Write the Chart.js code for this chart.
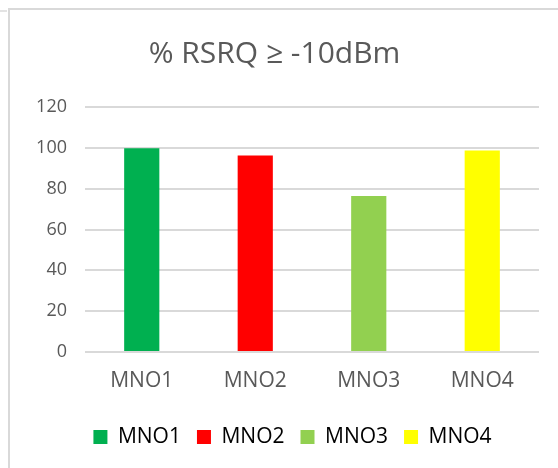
<!DOCTYPE html>
<html>
<head>
<meta charset="utf-8">
<script src="https://cdn.jsdelivr.net/npm/chart.js@4.4.1/dist/chart.umd.min.js"></script>
<style>
  html, body { margin: 0; padding: 0; background: #ffffff; }
  #wrap { position: relative; width: 558px; height: 468px; overflow: hidden; }
  #frame { position: absolute; left: 8px; top: 8px; right: -4px; bottom: -4px;
           border-left: 2px solid #d9d9d9; border-top: 2px solid #d9d9d9; }
  #stub { position: absolute; left: 0; top: 10px; width: 7px; height: 0;
          border-top: 2px solid #e3e3e3; }
  canvas { position: absolute; left: 0; top: 0; }
</style>
</head>
<body>
<div id="wrap">
  <div id="stub"></div>
  <div id="frame"></div>
  <canvas id="c" width="558" height="468"></canvas>
</div>
<script>
const categories = ['MNO1', 'MNO2', 'MNO3', 'MNO4'];
const shareValues = [99.8, 96.2, 76.4, 98.7];
const barColors = ['#00B050', '#FF0000', '#92D050', '#FFFF00'];
const yTicks = [0, 20, 40, 60, 80, 100, 120];

const FONT = "'Open Sans', 'Liberation Sans', sans-serif";
const TEXT = '#595959';

// The legend row sits centred under the plot area rather than the whole canvas,
// so nudge the legend box to the right once layout is done.
const legendOffset = {
  id: 'legendOffset',
  afterLayout(chart) {
    const shift = 18;
    chart.legend.left += shift;
    chart.legend.right += shift;
  }
};

new Chart(document.getElementById('c'), {
  type: 'bar',
  data: {
    labels: categories,
    datasets: [{
      label: '% RSRQ ≥ -10dBm',
      data: shareValues,
      backgroundColor: barColors,
      borderWidth: 0,
      barPercentage: 0.31,
      categoryPercentage: 1.0
    }]
  },
  plugins: [legendOffset],
  options: {
    responsive: false,
    animation: false,
    devicePixelRatio: 1,
    layout: { padding: { left: 10, right: 19, top: 0, bottom: 10.5 } },
    plugins: {
      title: {
        display: true,
        text: '% RSRQ ≥ -10dBm',
        color: TEXT,
        font: { family: FONT, size: 30, weight: 'normal', lineHeight: 1.2 },
        padding: { top: 36, bottom: 35 }
      },
      legend: {
        position: 'bottom',
        labels: {
          color: TEXT,
          font: { family: FONT, size: 21 },
          boxWidth: 14,
          boxHeight: 14,
          padding: 16,
          generateLabels: () => categories.map((name, i) => ({
            text: name,
            fillStyle: barColors[i],
            strokeStyle: barColors[i],
            lineWidth: 0,
            hidden: false,
            index: i
          }))
        }
      },
      tooltip: { enabled: false }
    },
    scales: {
      x: {
        grid: { display: false, drawTicks: false },
        border: { display: false },
        ticks: { color: TEXT, font: { family: FONT, size: 21 }, padding: 16.5 },
        afterFit: (scale) => { scale.height = 58.5; }
      },
      y: {
        min: 0,
        max: 120,
        afterBuildTicks: (scale) => { scale.ticks = yTicks.map(v => ({ value: v })); },
        grid: { color: '#d9d9d9', lineWidth: 2, drawTicks: false },
        border: { display: false },
        ticks: { color: TEXT, font: { family: FONT, size: 18 }, padding: 18 },
        afterFit: (scale) => { scale.width = 75; }
      }
    }
  }
});
</script>
</body>
</html>
